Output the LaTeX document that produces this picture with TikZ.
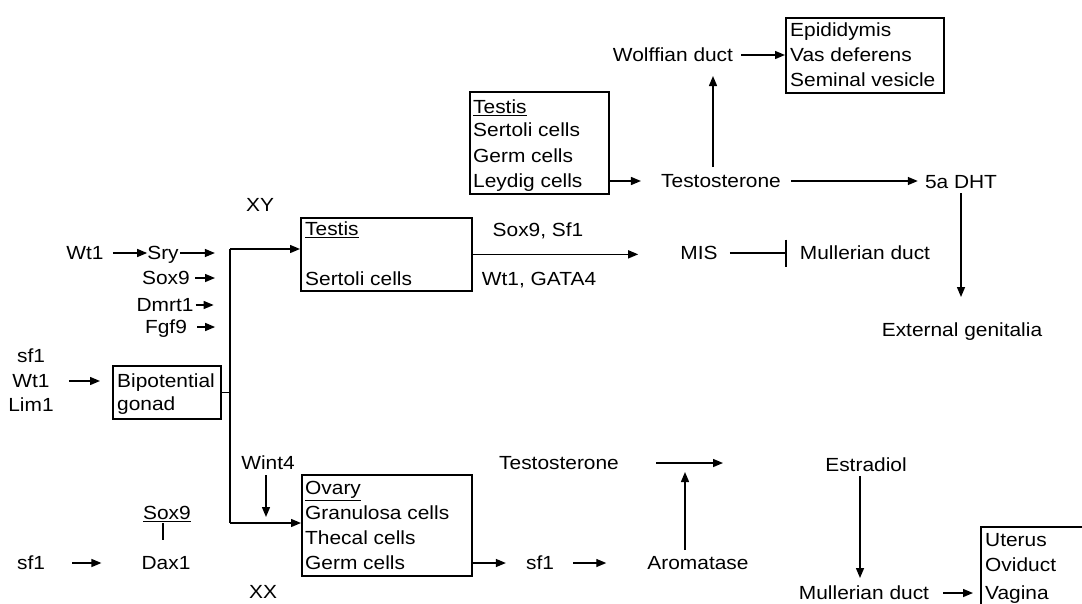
\documentclass[tikz,border=0pt]{standalone}
\usepackage{fontspec}
\setmainfont{Liberation Sans}[FakeStretch=1.1]
\usetikzlibrary{arrows.meta}
\begin{document}
\begin{tikzpicture}[x=1pt,y=-1pt,
  every node/.style={font=\fontsize{19}{23}\selectfont},
  t/.style={inner sep=0pt, text height=13.6pt, text depth=0pt},
  tl/.style={t, anchor=west},
  box/.style={draw, line width=1.7pt, inner sep=0pt, anchor=north west},
  arr/.style={line width=1.4pt, -{Triangle[length=10pt,width=8pt]}},
  ln/.style={line width=1.4pt},
  inh/.style={line width=1.4pt, -{Bar[width=27pt,line width=1.6pt]}},
]
\useasboundingbox (0,0) rectangle (1082,603);

% ---------- male duct development (top) ----------
\node[t] (wolff) at (673,55) {Wolffian duct};
\node[box, minimum width=158pt, minimum height=75pt] (epi) at (785,17) {};
\node[tl] (epi1) at (790,30) {Epididymis};
\node[tl] (epi2) at (790,55) {Vas deferens};
\node[tl] (epi3) at (790,80) {Seminal vesicle};

\node[box, minimum width=139pt, minimum height=102pt] (testisTop) at (469,91) {};
\node[tl] (tt1) at (473,107) {\underline{Testis}};
\node[tl] (tt2) at (473,130) {Sertoli cells};
\node[tl] (tt3) at (473,156) {Germ cells};
\node[tl] (tt4) at (473,181) {Leydig cells};

\node[t] (testoTop) at (721,181) {Testosterone};
\node[t] (dht) at (961,182) {5a DHT};
\node[t] (extgen) at (962,330) {External genitalia};

% ---------- testis determination (middle) ----------
\node[t] (xy) at (260,205) {XY};
\node[t] (wt1a) at (85,253) {Wt1};
\node[t] (sry) at (163,253) {Sry};
\node[t] (sox9a) at (166,278) {Sox9};
\node[t] (dmrt1) at (165,305) {Dmrt1};
\node[t] (fgf9) at (166,327) {Fgf9};

\node[t] (sf1a) at (31,356) {sf1};
\node[t] (wt1b) at (31,381) {Wt1};
\node[t] (lim1) at (31,405) {Lim1};

\node[box, minimum width=108pt, minimum height=53pt] (bip) at (112,365) {};
\node[tl] (bip1) at (117,381) {Bipotential};
\node[tl] (bip2) at (117,404) {gonad};

\node[box, minimum width=171pt, minimum height=73pt] (testisMid) at (300,217) {};
\node[tl] (tm1) at (305,229) {\underline{Testis}};
\node[tl] (tm2) at (305,279) {Sertoli cells};

\node[t] (soxsf) at (538,230) {Sox9, Sf1};
\node[t] (wtgata) at (539,279) {Wt1, GATA4};
\node[t] (mis) at (699,253) {MIS};
\node[t] (mullA) at (865,253) {Mullerian duct};

% ---------- ovary development (bottom) ----------
\node[t] (wint4) at (268,463) {Wint4};
\node[t] (sox9b) at (167,513) {\underline{Sox9}};
\node[t] (dax1) at (166,563) {Dax1};
\node[t] (sf1b) at (31,563) {sf1};
\node[t] (xx) at (263,592) {XX};

\node[box, minimum width=170pt, minimum height=101pt] (ovary) at (301,474) {};
\node[tl] (ov1) at (305,488) {\underline{Ovary}};
\node[tl] (ov2) at (305,513) {Granulosa cells};
\node[tl] (ov3) at (305,538) {Thecal cells};
\node[tl] (ov4) at (305,563) {Germ cells};

\node[t] (sf1c) at (540,563) {sf1};
\node[t] (arom) at (698,563) {Aromatase};
\node[t] (testoBot) at (559,463) {Testosterone};
\node[t] (estr) at (866,465) {Estradiol};
\node[t] (mullB) at (864,593) {Mullerian duct};

\node[box, minimum width=130pt, minimum height=95pt] (uterus) at (980,526) {};
\node[tl] (ut1) at (985,540) {Uterus};
\node[tl] (ut2) at (985,565) {Oviduct};
\node[tl] (ut3) at (985,593) {Vagina};

% junction points of the branching line
\coordinate (jTop) at (230,249);
\coordinate (jBot) at (230,523);
\coordinate (tEnd) at (723,463);

% ---------- connectors ----------
\draw[arr, shorten <=8pt] (wolff.east) -- (wolff.east -| epi.west);
\draw[arr, shorten >=20pt] (testisTop.east |- tt4) -- (testoTop.west);
\draw[arr, shorten <=7pt, shorten >=14pt] ([xshift=-8pt]testoTop.north) -- ([xshift=-8pt]testoTop.north |- wolff.south);
\draw[arr, shorten <=10pt, shorten >=7pt] (testoTop.east) -- (testoTop.east -| dht.west);
\draw[arr, shorten <=4pt, shorten >=26pt] (dht.south) -- (dht.south |- extgen.north);

\draw[arr, shorten <=9pt] (wt1a.east) -- (sry.west);
\draw[arr] ([xshift=1pt]sry.east) -- ++(35,0);
\draw[arr] ([xshift=5pt]sox9a.east) -- ++(20,0);
\draw[arr] ([xshift=2pt]dmrt1.east) -- ++(18,0);
\draw[arr] ([xshift=10pt]fgf9.east) -- ++(18,0);

\draw[arr, shorten <=19pt, shorten >=12pt] (wt1b.east) -- (wt1b.east -| bip.west);
\draw[ln] (bip.east) -- (bip.east -| jTop);
\draw[ln] (jTop) -- (jBot);
\draw[arr] (jTop) -- (jTop -| testisMid.west);
\draw[arr] (jBot) -- (jBot -| ovary.west);

\draw[arr, shorten >=42pt] (testisMid.east) -- (testisMid.east -| mis.west);
\draw[inh, shorten <=12pt, shorten >=13pt] (mis.east) -- (mis.east -| mullA.west);

\draw[arr, shorten <=5pt, shorten >=6pt] ([xshift=-2pt]wint4.south) -- ([xshift=-2pt]wint4.south |- jBot);
\draw[ln, shorten <=3pt, shorten >=16pt] ([xshift=-4pt]sox9b.south) -- ([xshift=-4pt]sox9b.south |- dax1.north);
\draw[arr, shorten <=27pt, shorten >=40pt] (sf1b.east) -- (dax1.west);

\draw[arr, shorten >=20pt] (ovary.east |- ov4) -- (sf1c.west);
\draw[arr, shorten <=19pt, shorten >=41pt] (sf1c.east) -- (arom.west);
\draw[arr, shorten <=37pt] (testoBot.east) -- (tEnd);
\draw[arr, shorten <=6pt, shorten >=9pt] ([xshift=-13pt]arom.north) -- ([xshift=-13pt]arom.north |- tEnd);
\draw[arr, shorten <=4pt, shorten >=8pt] ([xshift=-6pt]estr.south) -- ([xshift=-6pt]estr.south |- mullB.north);
\draw[arr, shorten <=14pt, shorten >=7pt] (mullB.east) -- (mullB.east -| uterus.west);
\end{tikzpicture}
\end{document}
